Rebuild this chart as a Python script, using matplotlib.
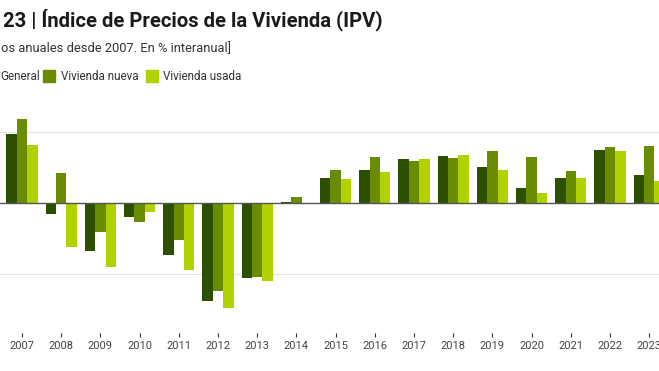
import numpy as np
import matplotlib
matplotlib.use("Agg")
import matplotlib.pyplot as plt
from matplotlib.patches import Rectangle

# datos (% interanual, medias anuales)
years = list(range(2007, 2024))
general = [9.75, -1.5, -6.7, -1.9, -7.3, -13.7, -10.5, 0.25, 3.5, 4.7, 6.2, 6.65, 5.1, 2.1, 3.6, 7.45, 4.0]
nueva = [11.8, 4.2, -4.1, -2.7, -5.2, -12.3, -10.4, 0.95, 4.7, 6.5, 5.9, 6.4, 7.35, 6.5, 4.6, 7.9, 8.0]
usada = [8.2, -6.2, -9.0, -1.2, -9.4, -14.7, -10.9, 0.0, 3.4, 4.4, 6.2, 6.75, 4.7, 1.4, 3.55, 7.35, 3.2]

series_names = ["General", "Vivienda nueva", "Vivienda usada"]
colors = ["#2d5000", "#6a8c00", "#b2d100"]

plt.rcParams['font.family'] = ['Roboto', 'DejaVu Sans']

W, H = 659, 371
fig = plt.figure(figsize=(W / 100, H / 100), dpi=100)

# eje desbordado a ambos lados (imagen recortada)
y_top, y_bot = 100, 333
ax = fig.add_axes([0, 1 - y_bot / H, 1, (y_bot - y_top) / H])

x = np.arange(len(years)) + years[0]
w = 0.265
for i, (vals, c) in enumerate(zip([general, nueva, usada], colors)):
    ax.bar(x + (i - 1) * w, vals, width=w, color=c, linewidth=0, zorder=2)

ax.set_xlim(2006.44, 2023.25)
ppu = 7.11  # pixeles por punto porcentual
ax.set_ylim(-(y_bot - 203.3) / ppu, (203.3 - y_top) / ppu)
ax.axhline(0, color="#555555", lw=1.0, zorder=3)
for g in (-10, 10):
    ax.axhline(g, color="#e3e3e3", lw=0.8, zorder=1)

for s in ax.spines.values():
    s.set_visible(False)
ax.set_yticks([])
ax.set_xticks(x)
ax.set_xticklabels([str(y) for y in years], fontsize=8, color="#444444")
ax.tick_params(axis="x", length=3, width=0.8, color="#333333", pad=2.5)

# titulo y subtitulo
fig.text(3 / W, 1 - 20 / H, "23 | Índice de Precios de la Vivienda (IPV)",
         fontsize=14.6, fontweight="bold", color="#1a1a1a", va="center", ha="left")
fig.text(1 / W, 1 - 49 / H, "os anuales desde 2007. En % interanual]",
         fontsize=9.3, color="#333333", va="center", ha="left")

# leyenda manual
ly = 1 - 76 / H
leg = [(None, 0), (43, 61), (146, 163)]
for (sq, tx), name, c in zip(leg, series_names, colors):
    if sq is not None:
        fig.patches.append(Rectangle((sq / W, ly - 6 / H), 12 / W, 12 / H,
                                     transform=fig.transFigure, color=c))
    fig.text(tx / W, ly, name, fontsize=8.4, color="#333333", va="center", ha="left")

fig.savefig("out.png", dpi=100)
